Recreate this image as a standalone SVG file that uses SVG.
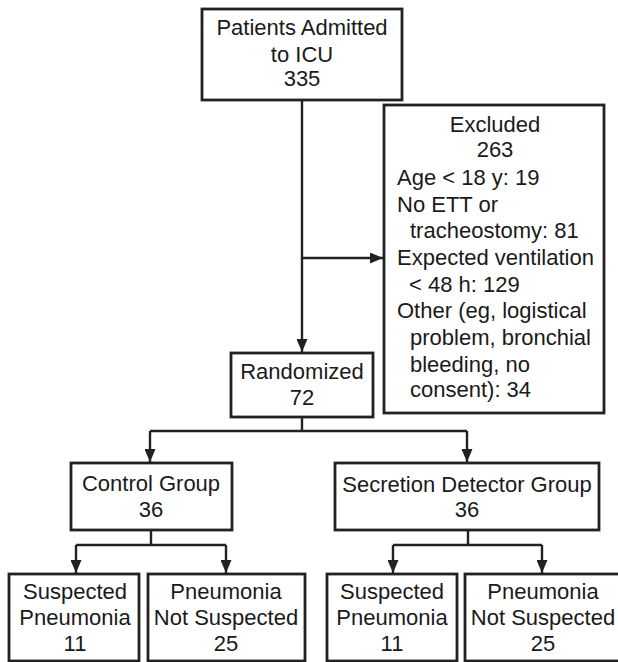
<svg xmlns="http://www.w3.org/2000/svg" width="618" height="662" viewBox="0 0 618 662">
<style>
.box{fill:#fff;stroke:#222;stroke-width:2.8}
.t{font-family:"Liberation Sans",Arial,sans-serif;font-size:22px;fill:#1a1a1a}
.c{text-anchor:middle}
.ln{fill:none;stroke:#222;stroke-width:2.4}
</style>
<defs>
<marker id="ah" markerUnits="userSpaceOnUse" markerWidth="13" markerHeight="11" refX="13" refY="5.5" orient="auto">
<path d="M0,0 L13,5.5 L0,11 z" fill="#222"/>
</marker>
</defs>
<rect width="618" height="662" fill="#fff"/>
<g id="connectors">
<path class="ln" d="M302,100 V352" marker-end="url(#ah)"/>
<path class="ln" d="M302,258 H383" marker-end="url(#ah)"/>
<path class="ln" d="M302,417 V431"/>
<path class="ln" d="M150,431 H467"/>
<path class="ln" d="M150,431 V462" marker-end="url(#ah)"/>
<path class="ln" d="M467,431 V462" marker-end="url(#ah)"/>
<path class="ln" d="M151,530 V545"/>
<path class="ln" d="M76,545 H226"/>
<path class="ln" d="M76,545 V573" marker-end="url(#ah)"/>
<path class="ln" d="M226,545 V573" marker-end="url(#ah)"/>
<path class="ln" d="M468,530 V545"/>
<path class="ln" d="M393,545 H542"/>
<path class="ln" d="M393,545 V573" marker-end="url(#ah)"/>
<path class="ln" d="M542,545 V573" marker-end="url(#ah)"/>
</g>
<g id="admitted">
<rect class="box" x="202" y="9" width="200" height="91"/>
<text class="t c" x="302" y="35">Patients Admitted</text>
<text class="t c" x="302" y="62">to ICU</text>
<text class="t c" x="302" y="86">335</text>
</g>
<g id="excluded">
<rect class="box" x="384" y="105" width="220" height="308"/>
<text class="t c" x="495" y="132">Excluded</text>
<text class="t c" x="495" y="157">263</text>
<text class="t" x="397" y="185">Age &lt; 18 y: 19</text>
<text class="t" x="397" y="212">No ETT or</text>
<text class="t" x="410" y="238">tracheostomy: 81</text>
<text class="t" x="397" y="265">Expected ventilation</text>
<text class="t" x="409" y="292">&lt; 48 h: 129</text>
<text class="t" x="397" y="318">Other (eg, logistical</text>
<text class="t" x="410" y="345">problem, bronchial</text>
<text class="t" x="410" y="372">bleeding, no</text>
<text class="t" x="410" y="397">consent): 34</text>
</g>
<g id="randomized">
<rect class="box" x="231" y="353" width="142" height="64"/>
<text class="t c" x="302" y="379">Randomized</text>
<text class="t c" x="302" y="405">72</text>
</g>
<g id="control">
<rect class="box" x="71" y="463" width="161" height="67"/>
<text class="t c" x="151" y="491">Control Group</text>
<text class="t c" x="151" y="517">36</text>
</g>
<g id="secretion">
<rect class="box" x="335" y="463" width="264" height="67"/>
<text class="t c" x="467" y="492">Secretion Detector Group</text>
<text class="t c" x="467" y="517">36</text>
</g>
<g id="ctrl-suspected">
<rect class="box" x="9" y="574" width="130" height="87"/>
<text class="t c" x="75" y="599">Suspected</text>
<text class="t c" x="75" y="625">Pneumonia</text>
<text class="t c" x="75" y="651">11</text>
</g>
<g id="ctrl-not-suspected">
<rect class="box" x="148" y="574" width="157" height="87"/>
<text class="t c" x="226" y="599">Pneumonia</text>
<text class="t c" x="226" y="625">Not Suspected</text>
<text class="t c" x="226" y="651">25</text>
</g>
<g id="sd-suspected">
<rect class="box" x="327" y="574" width="130" height="87"/>
<text class="t c" x="392" y="599">Suspected</text>
<text class="t c" x="392" y="625">Pneumonia</text>
<text class="t c" x="392" y="651">11</text>
</g>
<g id="sd-not-suspected">
<rect class="box" x="465" y="574" width="160" height="87"/>
<text class="t c" x="543" y="599">Pneumonia</text>
<text class="t c" x="543" y="625">Not Suspected</text>
<text class="t c" x="543" y="651">25</text>
</g>
</svg>
